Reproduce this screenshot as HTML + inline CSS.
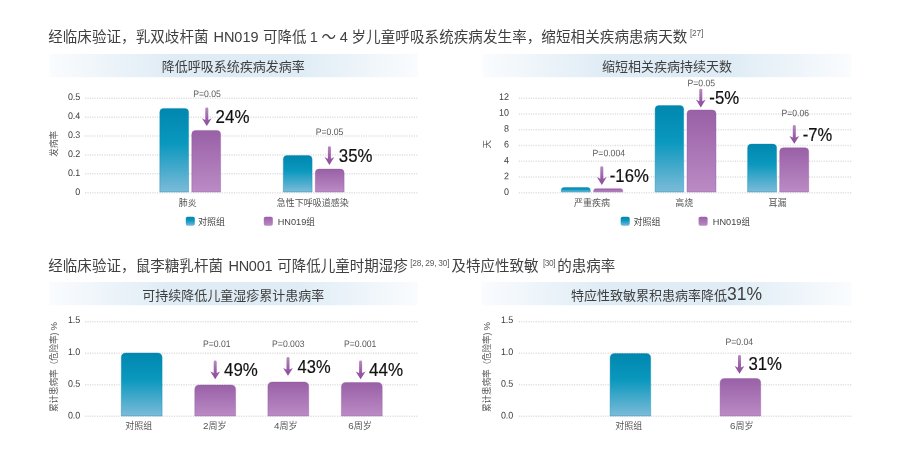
<!DOCTYPE html>
<html lang="zh-CN">
<head>
<meta charset="utf-8">
<title>临床验证</title>
<style>
html,body{margin:0;padding:0;background:#fff;}
body{width:900px;height:463px;overflow:hidden;}
svg{display:block;}
text{font-family:"Liberation Sans","Noto Sans CJK SC",sans-serif;}
.h{font-size:14.5px;fill:#404040;}
.sup{font-size:8.3px;fill:#5a5a5a;}
.t{font-size:13px;fill:#3e3e3e;text-anchor:middle;}
.ax{font-size:9.6px;fill:#3c3c3c;text-anchor:end;}
.cat{font-size:9px;fill:#555;text-anchor:middle;}
.lg{font-size:9px;fill:#444;}
.yl{font-size:8.6px;fill:#555;text-anchor:middle;}
.p{font-size:9.4px;fill:#5a5a5a;text-anchor:middle;}
.v{font-size:17.5px;fill:#111;stroke:#111;stroke-width:0.18px;}
.grid{stroke:#e0e0e0;stroke-width:1.5;stroke-dasharray:1.2 1.2;}
</style>
</head>
<body>
<svg width="900" height="463" viewBox="0 0 900 463">
<defs>
<linearGradient id="band" x1="0" y1="0" x2="1" y2="0">
<stop offset="0" stop-color="#fafcfe"/>
<stop offset="0.33" stop-color="#dfecf5"/>
<stop offset="0.67" stop-color="#dfecf5"/>
<stop offset="1" stop-color="#fafcfe"/>
</linearGradient>
<linearGradient id="teal" x1="0" y1="0" x2="0" y2="1">
<stop offset="0" stop-color="#0087af"/>
<stop offset="0.42" stop-color="#0a98be"/>
<stop offset="1" stop-color="#7cbbd8"/>
</linearGradient>
<linearGradient id="purple" x1="0" y1="0" x2="0" y2="1">
<stop offset="0" stop-color="#9960a6"/>
<stop offset="1" stop-color="#bb8bc5"/>
</linearGradient>
<linearGradient id="ag" x1="0" y1="0" x2="0" y2="1">
<stop offset="0" stop-color="#b88ac3"/>
<stop offset="0.6" stop-color="#9a5ca8"/>
<stop offset="1" stop-color="#8c4c9c"/>
</linearGradient>

</defs>
<rect width="900" height="463" fill="#ffffff"/>

<text class="h" x="48.2" y="41.6" textLength="160.3" lengthAdjust="spacing">经临床验证，乳双歧杆菌</text>
<text class="h" x="213.5" y="41.6" textLength="45" lengthAdjust="spacing">HN019</text>
<text class="h" x="263" y="41.6" textLength="43.5" lengthAdjust="spacing">可降低</text>
<text class="h" x="309.8" y="41.6">1</text>
<text class="h" x="321.6" y="41.6">～</text>
<text class="h" x="339.7" y="41.6">4</text>
<text class="h" x="351.5" y="41.6" textLength="335.8" lengthAdjust="spacing">岁儿童呼吸系统疾病发生率，缩短相关疾病患病天数</text>
<text class="sup" x="690" y="36.4" textLength="13.3" lengthAdjust="spacing">[27]</text>
<rect x="49" y="54" width="369" height="23.2" fill="url(#band)"/>
<text class="t" x="233.3" y="71">降低呼吸系统疾病发病率</text>
<line class="grid" x1="85" x2="418.6" y1="98.3" y2="98.3"/>
<line class="grid" x1="85" x2="418.6" y1="117.2" y2="117.2"/>
<line class="grid" x1="85" x2="418.6" y1="136.1" y2="136.1"/>
<line class="grid" x1="85" x2="418.6" y1="154.9" y2="154.9"/>
<line class="grid" x1="85" x2="418.6" y1="173.8" y2="173.8"/>
<line class="grid" x1="85" x2="418.6" y1="192.7" y2="192.7"/>
<text class="ax" transform="translate(80.3 99.9) scale(0.93 1) rotate(0.03)">0.5</text>
<text class="ax" transform="translate(80.3 118.94) scale(0.93 1) rotate(0.03)">0.4</text>
<text class="ax" transform="translate(80.3 137.98) scale(0.93 1) rotate(0.03)">0.3</text>
<text class="ax" transform="translate(80.3 157.02) scale(0.93 1) rotate(0.03)">0.2</text>
<text class="ax" transform="translate(80.3 176.06) scale(0.93 1) rotate(0.03)">0.1</text>
<text class="ax" transform="translate(80.3 195.1) scale(0.93 1) rotate(0.03)">0</text>
<text class="yl" transform="translate(56.8,143.8) rotate(-90)">发病率</text>
<path fill="url(#teal)" stroke="#0b86ad" stroke-opacity="0.55" stroke-width="0.7" d="M159.8,192 L159.8,112.2 Q159.8,108.4 163.60000000000002,108.4 L184.8,108.4 Q188.60000000000002,108.4 188.60000000000002,112.2 L188.60000000000002,192 Z"/>
<path fill="url(#purple)" stroke="#8f549d" stroke-opacity="0.55" stroke-width="0.7" d="M191.8,192 L191.8,134.20000000000002 Q191.8,130.4 195.60000000000002,130.4 L216.8,130.4 Q220.60000000000002,130.4 220.60000000000002,134.20000000000002 L220.60000000000002,192 Z"/>
<path fill="url(#teal)" stroke="#0b86ad" stroke-opacity="0.55" stroke-width="0.7" d="M283.3,192 L283.3,159.3 Q283.3,155.5 287.1,155.5 L308.3,155.5 Q312.1,155.5 312.1,159.3 L312.1,192 Z"/>
<path fill="url(#purple)" stroke="#8f549d" stroke-opacity="0.55" stroke-width="0.7" d="M315.3,192 L315.3,172.9 Q315.3,169.1 319.1,169.1 L340.3,169.1 Q344.1,169.1 344.1,172.9 L344.1,192 Z"/>
<text class="cat" x="187.8" y="205.5">肺炎</text>
<text class="cat" x="312.8" y="205.5">急性下呼吸道感染</text>
<text class="p" transform="translate(207 97) scale(0.92 1) rotate(0.03)">P=0.05</text>
<path transform="translate(206.8 107.4)" d="M-1.5,1.4 Q-1.5,0 0,0 Q1.5,0 1.5,1.4 L1.5,12.5 L4.9,10.9 L0,18.7 L-4.9,10.9 L-1.5,12.5 Z" fill="url(#ag)"/>
<text class="v" x="215.6" y="123.3" textLength="33.8" lengthAdjust="spacingAndGlyphs">24%</text>
<text class="p" transform="translate(329.5 135) scale(0.92 1) rotate(0.03)">P=0.05</text>
<path transform="translate(329.4 146.2)" d="M-1.5,1.4 Q-1.5,0 0,0 Q1.5,0 1.5,1.4 L1.5,12.5 L4.9,10.9 L0,18.7 L-4.9,10.9 L-1.5,12.5 Z" fill="url(#ag)"/>
<text class="v" x="338.8" y="161.5" textLength="33.6" lengthAdjust="spacingAndGlyphs">35%</text>
<rect x="185.8" y="216.8" width="9" height="9" rx="1.8" fill="url(#teal)"/>
<text class="lg" x="198" y="224.9">对照组</text>
<rect x="263.8" y="216.8" width="9" height="9" rx="1.8" fill="url(#purple)"/>
<text class="lg" x="277.7" y="224.9" textLength="37.2" lengthAdjust="spacingAndGlyphs"><tspan style="font-size:9.6px">HN019</tspan>组</text>
<rect x="482.5" y="54" width="369" height="23.2" fill="url(#band)"/>
<text class="t" x="667" y="71">缩短相关疾病持续天数</text>
<line class="grid" x1="518.8" x2="852.4" y1="98.3" y2="98.3"/>
<line class="grid" x1="518.8" x2="852.4" y1="114.0" y2="114.0"/>
<line class="grid" x1="518.8" x2="852.4" y1="129.8" y2="129.8"/>
<line class="grid" x1="518.8" x2="852.4" y1="145.5" y2="145.5"/>
<line class="grid" x1="518.8" x2="852.4" y1="161.2" y2="161.2"/>
<line class="grid" x1="518.8" x2="852.4" y1="177.0" y2="177.0"/>
<line class="grid" x1="518.8" x2="852.4" y1="192.7" y2="192.7"/>
<text class="ax" transform="translate(509 99.9) scale(0.93 1) rotate(0.03)">12</text>
<text class="ax" transform="translate(509 115.77) scale(0.93 1) rotate(0.03)">10</text>
<text class="ax" transform="translate(509 131.64) scale(0.93 1) rotate(0.03)">8</text>
<text class="ax" transform="translate(509 147.51) scale(0.93 1) rotate(0.03)">6</text>
<text class="ax" transform="translate(509 163.38) scale(0.93 1) rotate(0.03)">4</text>
<text class="ax" transform="translate(509 179.25) scale(0.93 1) rotate(0.03)">2</text>
<text class="ax" transform="translate(509 195.12) scale(0.93 1) rotate(0.03)">0</text>
<text class="yl" transform="translate(490.3,144.3) rotate(-90)">天</text>
<path fill="url(#teal)" stroke="#0b86ad" stroke-opacity="0.55" stroke-width="0.7" d="M561.3,192 L561.3,190.2 Q561.3,187.5 564.0,187.5 L587.5999999999999,187.5 Q590.3,187.5 590.3,190.2 L590.3,192 Z"/>
<path fill="url(#purple)" stroke="#8f549d" stroke-opacity="0.55" stroke-width="0.7" d="M593.7,192 L593.7,190.68 Q593.7,188.7 595.6800000000001,188.7 L620.72,188.7 Q622.7,188.7 622.7,190.68 L622.7,192 Z"/>
<path fill="url(#teal)" stroke="#0b86ad" stroke-opacity="0.55" stroke-width="0.7" d="M655.1,192 L655.1,109.3 Q655.1,105.5 658.9,105.5 L679.9000000000001,105.5 Q683.7,105.5 683.7,109.3 L683.7,192 Z"/>
<path fill="url(#purple)" stroke="#8f549d" stroke-opacity="0.55" stroke-width="0.7" d="M687,192 L687,113.8 Q687,110 690.8,110 L712.2,110 Q716,110 716,113.8 L716,192 Z"/>
<path fill="url(#teal)" stroke="#0b86ad" stroke-opacity="0.55" stroke-width="0.7" d="M747.6,192 L747.6,147.9 Q747.6,144.1 751.4,144.1 L772.8000000000001,144.1 Q776.6,144.1 776.6,147.9 L776.6,192 Z"/>
<path fill="url(#purple)" stroke="#8f549d" stroke-opacity="0.55" stroke-width="0.7" d="M779.7,192 L779.7,151.60000000000002 Q779.7,147.8 783.5,147.8 L804.9000000000001,147.8 Q808.7,147.8 808.7,151.60000000000002 L808.7,192 Z"/>
<text class="cat" x="592" y="205.5">严重疾病</text>
<text class="cat" x="684.3" y="205.5">高烧</text>
<text class="cat" x="777.5" y="205.5">耳漏</text>
<text class="p" transform="translate(608.8 156.2) scale(0.92 1) rotate(0.03)">P=0.004</text>
<path transform="translate(601.8 166.2)" d="M-1.5,1.4 Q-1.5,0 0,0 Q1.5,0 1.5,1.4 L1.5,12.5 L4.9,10.9 L0,18.7 L-4.9,10.9 L-1.5,12.5 Z" fill="url(#ag)"/>
<text class="v" x="609.8" y="181.5" textLength="39" lengthAdjust="spacingAndGlyphs">-16%</text>
<text class="p" transform="translate(701.3 86.2) scale(0.92 1) rotate(0.03)">P=0.05</text>
<path transform="translate(700.8 88.7)" d="M-1.5,1.4 Q-1.5,0 0,0 Q1.5,0 1.5,1.4 L1.5,12.5 L4.9,10.9 L0,18.7 L-4.9,10.9 L-1.5,12.5 Z" fill="url(#ag)"/>
<text class="v" x="709.3" y="104" textLength="29.8" lengthAdjust="spacingAndGlyphs">-5%</text>
<text class="p" transform="translate(795.3 116.2) scale(0.92 1) rotate(0.03)">P=0.06</text>
<path transform="translate(794.3 125)" d="M-1.5,1.4 Q-1.5,0 0,0 Q1.5,0 1.5,1.4 L1.5,12.5 L4.9,10.9 L0,18.7 L-4.9,10.9 L-1.5,12.5 Z" fill="url(#ag)"/>
<text class="v" x="802.8" y="140.7" textLength="29.4" lengthAdjust="spacingAndGlyphs">-7%</text>
<rect x="620.7" y="216.8" width="9" height="9" rx="1.8" fill="url(#teal)"/>
<text class="lg" x="633.6" y="224.9">对照组</text>
<rect x="698.6" y="216.8" width="9" height="9" rx="1.8" fill="url(#purple)"/>
<text class="lg" x="712.8" y="224.9" textLength="37.2" lengthAdjust="spacingAndGlyphs"><tspan style="font-size:9.6px">HN019</tspan>组</text>
<text class="h" x="48.2" y="271" textLength="174.8" lengthAdjust="spacing">经临床验证，鼠李糖乳杆菌</text>
<text class="h" x="228.5" y="271" textLength="44" lengthAdjust="spacing">HN001</text>
<text class="h" x="277.2" y="271" textLength="130.5" lengthAdjust="spacing">可降低儿童时期湿疹</text>
<text class="sup" x="410.2" y="265.6" textLength="39.3" lengthAdjust="spacing">[28, 29, 30]</text>
<text class="h" x="451.5" y="271" textLength="87" lengthAdjust="spacing">及特应性致敏</text>
<text class="sup" x="543" y="265.6" textLength="12.5" lengthAdjust="spacing">[30]</text>
<text class="h" x="557.2" y="271" textLength="58" lengthAdjust="spacing">的患病率</text>
<rect x="49" y="282" width="369" height="23.2" fill="url(#band)"/>
<text class="t" x="233.3" y="300">可持续降低儿童湿疹累计患病率</text>
<line class="grid" x1="85" x2="418.6" y1="321.7" y2="321.7"/>
<line class="grid" x1="85" x2="418.6" y1="353.2" y2="353.2"/>
<line class="grid" x1="85" x2="418.6" y1="384.7" y2="384.7"/>
<line class="grid" x1="85" x2="418.6" y1="416.2" y2="416.2"/>
<text class="ax" transform="translate(80.3 323.1) scale(0.93 1) rotate(0.03)">1.5</text>
<text class="ax" transform="translate(80.3 354.9) scale(0.93 1) rotate(0.03)">1.0</text>
<text class="ax" transform="translate(80.3 386.7) scale(0.93 1) rotate(0.03)">0.5</text>
<text class="ax" transform="translate(80.3 418.5) scale(0.93 1) rotate(0.03)">0.0</text>
<text class="yl" transform="translate(56.8,367) rotate(-90)" textLength="90" lengthAdjust="spacing">累计患病率（危险率) <tspan style="font-size:9.6px">%</tspan></text>
<path fill="url(#teal)" stroke="#0b86ad" stroke-opacity="0.55" stroke-width="0.7" d="M121.3,416 L121.3,357.6 Q121.3,353 125.89999999999999,353 L157.5,353 Q162.1,353 162.1,357.6 L162.1,416 Z"/>
<path fill="url(#purple)" stroke="#8f549d" stroke-opacity="0.55" stroke-width="0.7" d="M194.8,416 L194.8,389.6 Q194.8,385 199.4,385 L231.00000000000003,385 Q235.60000000000002,385 235.60000000000002,389.6 L235.60000000000002,416 Z"/>
<path fill="url(#purple)" stroke="#8f549d" stroke-opacity="0.55" stroke-width="0.7" d="M267.9,416 L267.9,386.6 Q267.9,382 272.5,382 L304.09999999999997,382 Q308.7,382 308.7,386.6 L308.7,416 Z"/>
<path fill="url(#purple)" stroke="#8f549d" stroke-opacity="0.55" stroke-width="0.7" d="M341.4,416 L341.4,387.1 Q341.4,382.5 346.0,382.5 L377.59999999999997,382.5 Q382.2,382.5 382.2,387.1 L382.2,416 Z"/>
<text class="cat" x="138.7" y="429">对照组</text>
<text class="cat" x="214.7" y="429"><tspan style="font-size:9.8px">2</tspan>周岁</text>
<text class="cat" x="285.8" y="429"><tspan style="font-size:9.8px">4</tspan>周岁</text>
<text class="cat" x="360" y="429"><tspan style="font-size:9.8px">6</tspan>周岁</text>
<text class="p" transform="translate(216.8 347) scale(0.92 1) rotate(0.03)">P=0.01</text>
<path transform="translate(215.2 360.5)" d="M-1.5,1.4 Q-1.5,0 0,0 Q1.5,0 1.5,1.4 L1.5,12.5 L4.9,10.9 L0,18.7 L-4.9,10.9 L-1.5,12.5 Z" fill="url(#ag)"/>
<text class="v" x="224" y="375.6" textLength="33.8" lengthAdjust="spacingAndGlyphs">49%</text>
<text class="p" transform="translate(288.3 347) scale(0.92 1) rotate(0.03)">P=0.003</text>
<path transform="translate(288 357)" d="M-1.5,1.4 Q-1.5,0 0,0 Q1.5,0 1.5,1.4 L1.5,12.5 L4.9,10.9 L0,18.7 L-4.9,10.9 L-1.5,12.5 Z" fill="url(#ag)"/>
<text class="v" x="297.6" y="372.6" textLength="33" lengthAdjust="spacingAndGlyphs">43%</text>
<text class="p" transform="translate(360.2 347) scale(0.92 1) rotate(0.03)">P=0.001</text>
<path transform="translate(360.6 360.5)" d="M-1.5,1.4 Q-1.5,0 0,0 Q1.5,0 1.5,1.4 L1.5,12.5 L4.9,10.9 L0,18.7 L-4.9,10.9 L-1.5,12.5 Z" fill="url(#ag)"/>
<text class="v" x="369" y="375.6" textLength="34" lengthAdjust="spacingAndGlyphs">44%</text>
<rect x="481.5" y="282" width="370" height="23.2" fill="url(#band)"/>
<text class="t" style="text-anchor:start" x="571" y="300">特应性致敏累积患病率降低<tspan style="font-size:17.5px" dy="-0.2">31%</tspan></text>
<line class="grid" x1="518.8" x2="852.4" y1="321.7" y2="321.7"/>
<line class="grid" x1="518.8" x2="852.4" y1="353.2" y2="353.2"/>
<line class="grid" x1="518.8" x2="852.4" y1="384.7" y2="384.7"/>
<line class="grid" x1="518.8" x2="852.4" y1="416.2" y2="416.2"/>
<text class="ax" transform="translate(513.3 323.1) scale(0.93 1) rotate(0.03)">1.5</text>
<text class="ax" transform="translate(513.3 354.9) scale(0.93 1) rotate(0.03)">1.0</text>
<text class="ax" transform="translate(513.3 386.7) scale(0.93 1) rotate(0.03)">0.5</text>
<text class="ax" transform="translate(513.3 418.5) scale(0.93 1) rotate(0.03)">0.0</text>
<text class="yl" transform="translate(490,367) rotate(-90)" textLength="90" lengthAdjust="spacing">累计患病率（危险率) <tspan style="font-size:9.6px">%</tspan></text>
<path fill="url(#teal)" stroke="#0b86ad" stroke-opacity="0.55" stroke-width="0.7" d="M610.1,416 L610.1,358.1 Q610.1,353.5 614.7,353.5 L646.1,353.5 Q650.7,353.5 650.7,358.1 L650.7,416 Z"/>
<path fill="url(#purple)" stroke="#8f549d" stroke-opacity="0.55" stroke-width="0.7" d="M720.1,416 L720.1,383.1 Q720.1,378.5 724.7,378.5 L756.1,378.5 Q760.7,378.5 760.7,383.1 L760.7,416 Z"/>
<text class="cat" x="628.7" y="429">对照组</text>
<text class="cat" x="741.8" y="429"><tspan style="font-size:9.8px">6</tspan>周岁</text>
<text class="p" transform="translate(739.3 345) scale(0.92 1) rotate(0.03)">P=0.04</text>
<path transform="translate(739.5 355)" d="M-1.5,1.4 Q-1.5,0 0,0 Q1.5,0 1.5,1.4 L1.5,12.5 L4.9,10.9 L0,18.7 L-4.9,10.9 L-1.5,12.5 Z" fill="url(#ag)"/>
<text class="v" x="748.5" y="370.2" textLength="33.5" lengthAdjust="spacingAndGlyphs">31%</text>
</svg>
</body>
</html>
